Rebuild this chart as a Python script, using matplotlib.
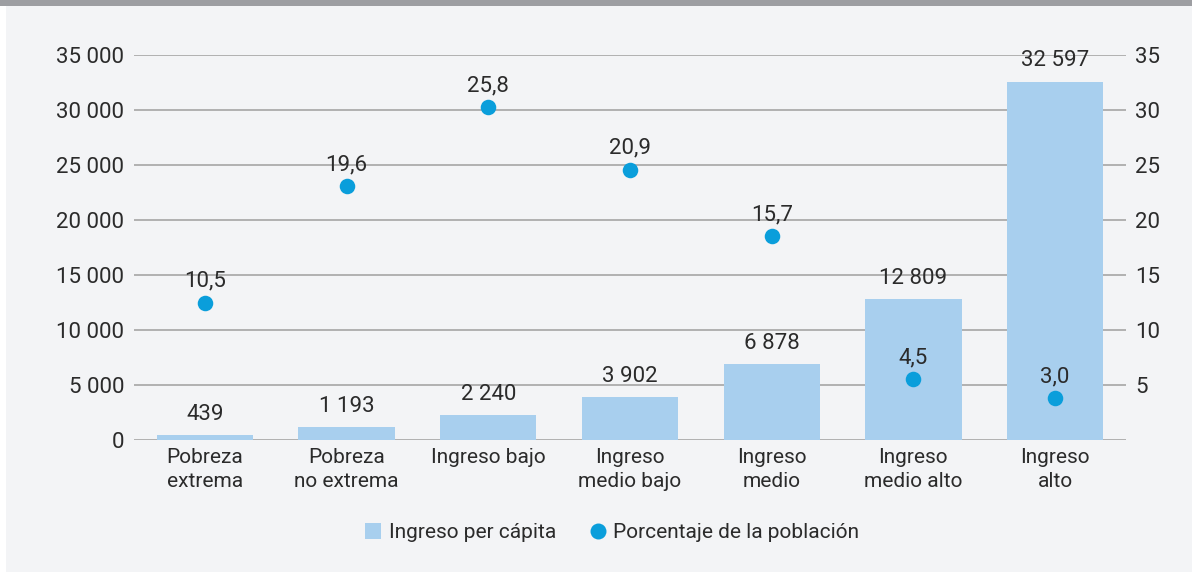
import numpy as np
import matplotlib.pyplot as plt
from matplotlib.patches import Rectangle
from matplotlib.lines import Line2D

plt.rcParams['font.family'] = ['Roboto', 'DejaVu Sans']

# --- DATEN ---
categorias = ["Pobreza\nextrema", "Pobreza\nno extrema", "Ingreso bajo",
              "Ingreso\nmedio bajo", "Ingreso\nmedio", "Ingreso\nmedio alto",
              "Ingreso\nalto"]
ingreso = [439, 1193, 2240, 3902, 6878, 12809, 32597]
porcentaje = [10.5, 19.6, 25.8, 20.9, 15.7, 4.5, 3.0]
ticks_izq = [0, 5000, 10000, 15000, 20000, 25000, 30000, 35000]
ticks_der = ["5", "10", "15", "20", "25", "30", "35"]

COLOR_BAR = "#a8cfee"
COLOR_DOT = "#0a9edb"
COLOR_TXT = "#2b2b2b"
COLOR_GRID = "#a5a5a5"
BG = "#f3f4f6"
FS = 16      # numeros
FS_TXT = 15  # textos

def miles(v):
    return f"{v:,}".replace(",", " ")

fig = plt.figure(figsize=(11.92, 5.73), dpi=100)
fig.patch.set_facecolor("white")
# fondo gris y banda superior
fig.add_artist(Rectangle((6 / 1192, 0.002), 1 - 6 / 1192, 1, transform=fig.transFigure,
                         facecolor=BG, edgecolor="none", zorder=-10))
fig.add_artist(Rectangle((0, 1 - 6 / 573), 1, 6 / 573, transform=fig.transFigure,
                         facecolor="#9d9ea2", edgecolor="none", zorder=-9))

ax = fig.add_axes([134 / 1192, 1 - 440 / 573, (1126 - 134) / 1192, (440 - 55.3) / 573])
ax.set_facecolor("none")
x = np.arange(len(categorias))

ax.bar(x, ingreso, width=0.68, color=COLOR_BAR, zorder=2)
for xi, v in zip(x, ingreso):
    ax.annotate(miles(v), (xi, v), xytext=(0, 11), textcoords="offset points",
                ha="center", va="baseline", fontsize=FS, color=COLOR_TXT, zorder=5)

ax.set_xlim(-0.5, len(categorias) - 0.5)
ax.set_ylim(0, 35000)
ax.set_yticks(ticks_izq)
ax.set_yticklabels([miles(t) for t in ticks_izq])
ax.set_xticks(x)
ax.set_xticklabels(categorias, linespacing=1.3)
ax.yaxis.grid(True, color=COLOR_GRID, linewidth=1.2, zorder=0)
ax.set_axisbelow(True)
for s in ax.spines.values():
    s.set_visible(False)
ax.tick_params(axis="both", length=0, labelsize=FS, colors=COLOR_TXT)
ax.tick_params(axis="y", pad=7)
ax.tick_params(axis="x", pad=6, labelsize=FS_TXT)

# eje derecho (porcentaje)
ax2 = ax.twinx()
lo, hi = -0.25, 29.85
ax2.set_ylim(lo, hi)
ax2.set_yticks(np.linspace(lo, hi, 8)[1:])
ax2.set_yticklabels(ticks_der)
ax2.tick_params(axis="y", length=0, labelsize=FS, colors=COLOR_TXT, pad=6.5)
for s in ax2.spines.values():
    s.set_visible(False)
ax2.scatter(x, porcentaje, s=125, color=COLOR_DOT, zorder=4, linewidths=0)
for xi, v in zip(x, porcentaje):
    ax2.annotate(f"{v:.1f}".replace(".", ","), (xi, v), xytext=(0, 11.5),
                 textcoords="offset points", ha="center", va="baseline",
                 fontsize=FS, color=COLOR_TXT)

handles = [Line2D([], [], marker="s", linestyle="none", markersize=11,
                  markerfacecolor=COLOR_BAR, markeredgewidth=0),
           Line2D([], [], marker="o", linestyle="none", markersize=11.5,
                  markerfacecolor=COLOR_DOT, markeredgewidth=0)]
fig.legend(handles, ["Ingreso per cápita", "Porcentaje de la población"],
           loc="center", bbox_to_anchor=(612 / 1192, 1 - 533 / 573), ncol=2,
           frameon=False, fontsize=FS_TXT, labelcolor=COLOR_TXT, handlelength=0.8,
           handletextpad=0.35, columnspacing=1.6)

fig.savefig("out.png", dpi=100, facecolor=fig.get_facecolor())
